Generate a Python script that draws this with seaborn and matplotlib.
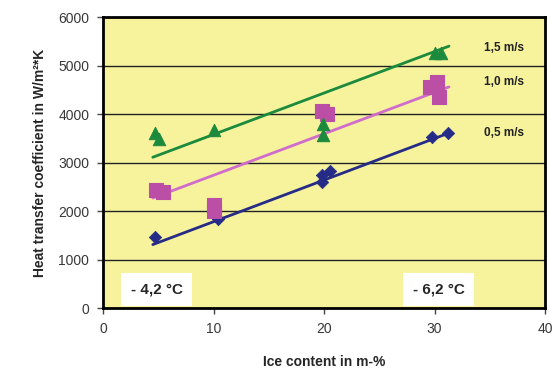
import numpy as np
import pandas as pd
import matplotlib
matplotlib.use('Agg')
import matplotlib.pyplot as plt
import seaborn as sns

# measured points (ice content in m-%, heat transfer coefficient in W/m2K)
ice_05 = [4.7, 10.4, 19.8, 19.8, 20.5, 29.8, 31.2]
htc_05 = [1460, 1830, 2600, 2740, 2820, 3520, 3610]

ice_10 = [4.8, 5.4, 10.0, 10.0, 19.8, 20.3, 29.6, 30.2, 30.4]
htc_10 = [2430, 2400, 2130, 2000, 4060, 4010, 4550, 4660, 4350]

ice_15 = [4.7, 5.1, 10.0, 19.9, 19.9, 30.0, 30.6]
htc_15 = [3620, 3480, 3670, 3800, 3570, 5260, 5260]

# trend lines as printed in the chart
trend_x = [4.5, 31.3]
trend_05 = [1310, 3610]
trend_10 = [2270, 4560]
trend_15 = [3110, 5400]

speed_labels = ['0,5 m/s', '1,0 m/s', '1,5 m/s']
temp_labels = ['- 4,2 °C', '- 6,2 °C']

navy = '#252b86'
pink_marker = '#bb4fa6'
pink_line = '#d06ccb'
green = '#1b8a3c'

sns.set_style('white')
plt.rcParams['font.family'] = ['Liberation Sans', 'DejaVu Sans']

fig = plt.figure(figsize=(5.54, 3.79), dpi=100)
ax = fig.add_axes([0.186, 0.187, 0.798, 0.768])
ax.set_facecolor('#f6f39c')

# trend lines
sns.lineplot(x=trend_x, y=trend_05, color=navy, lw=2, ax=ax)
sns.lineplot(x=trend_x, y=trend_10, color=pink_line, lw=2, ax=ax)
sns.lineplot(x=trend_x, y=trend_15, color=green, lw=2, ax=ax)

# measured points
sns.scatterplot(x=ice_05, y=htc_05, marker='D', s=40, color=navy, edgecolor=navy, ax=ax, zorder=3)
sns.scatterplot(x=ice_10, y=htc_10, marker='s', s=95, color=pink_marker, edgecolor=pink_marker, ax=ax, zorder=3)
sns.scatterplot(x=ice_15, y=htc_15, marker='^', s=80, color=green, edgecolor=green, ax=ax, zorder=3)

ax.set_xlim(0, 40)
ax.set_ylim(0, 6000)
ax.set_xticks(range(0, 41, 10))
ax.set_yticks(range(0, 6001, 1000))
ax.yaxis.grid(True, color='#222222', lw=1)
ax.set_axisbelow(True)
for s in ax.spines.values():
    s.set_color('black')
    s.set_linewidth(2)
ax.tick_params(axis='both', direction='out', length=4, width=1, color='#444444',
               labelsize=10, labelcolor='#383838', bottom=True, left=True, pad=6)

ax.set_xlabel('Ice content in m-%', fontsize=10, fontweight='bold', labelpad=14)
ax.set_ylabel('Heat transfer coefficient in W/m²*K', fontsize=10, fontweight='bold', labelpad=8)

# speed labels
for lab, yv in zip(speed_labels, [3610, 4660, 5360]):
    ax.text(34.5, yv, lab, fontsize=8.5, fontweight='bold', color='#222222', va='center')

# temperature boxes
box = dict(facecolor='white', edgecolor='none', pad=7)
ax.text(2.5, 300, temp_labels[0], fontsize=11, fontweight='bold', bbox=box)
ax.text(28.0, 300, temp_labels[1], fontsize=11, fontweight='bold', bbox=box)

fig.savefig('out.png', dpi=100)
